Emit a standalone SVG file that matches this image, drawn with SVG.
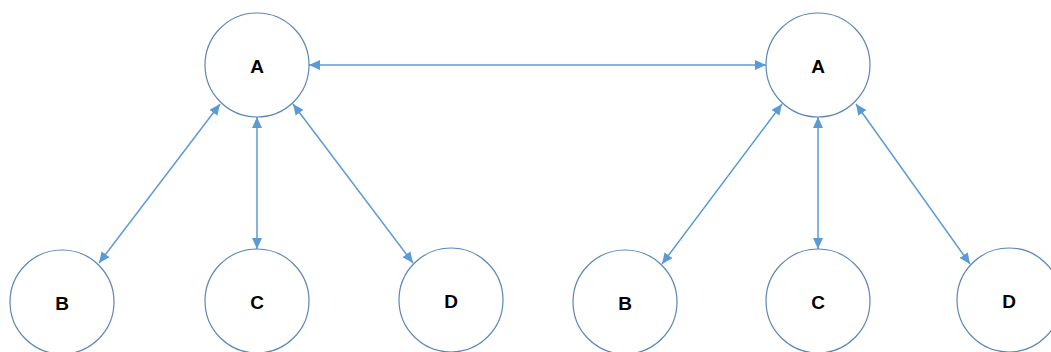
<svg xmlns="http://www.w3.org/2000/svg" width="1051" height="352" viewBox="0 0 1051 352">
<style>
.n{fill:#fff;stroke:#5a87b8;stroke-width:1.2}
.t{font-family:"Liberation Sans",Arial,sans-serif;font-weight:bold;font-size:19px;fill:#000;text-anchor:middle;dominant-baseline:central}
.c{stroke:#5b9bd5;stroke-width:1.5;fill:none;marker-start:url(#ah);marker-end:url(#ah)}
</style>
<defs>
<marker id="ah" markerUnits="userSpaceOnUse" markerWidth="12" markerHeight="10" refX="11" refY="5" orient="auto-start-reverse">
<path d="M0,0 L11,5 L0,10 Z" fill="#5b9bd5"/>
</marker>
</defs>
<rect width="1051" height="352" fill="#fff"/>
<g id="connectors">
<line class="c" x1="309" y1="65" x2="766" y2="65"/>
<line class="c" x1="220" y1="104" x2="99" y2="263"/>
<line class="c" x1="257" y1="117" x2="257" y2="249"/>
<line class="c" x1="293" y1="104" x2="413" y2="263"/>
<line class="c" x1="782" y1="104" x2="662" y2="264"/>
<line class="c" x1="818" y1="117" x2="818" y2="249"/>
<line class="c" x1="856" y1="104" x2="970" y2="264"/>
</g>
<g id="nodeA1"><circle class="n" cx="257" cy="65" r="52"/><text class="t" x="257" y="66">A</text></g>
<g id="nodeB1"><circle class="n" cx="62" cy="302" r="52"/><text class="t" x="62" y="303">B</text></g>
<g id="nodeC1"><circle class="n" cx="257" cy="301" r="52"/><text class="t" x="257" y="302">C</text></g>
<g id="nodeD1"><circle class="n" cx="451" cy="300" r="52"/><text class="t" x="451" y="301">D</text></g>
<g id="nodeA2"><circle class="n" cx="818" cy="65" r="52"/><text class="t" x="818" y="66">A</text></g>
<g id="nodeB2"><circle class="n" cx="625" cy="302" r="52"/><text class="t" x="625" y="303">B</text></g>
<g id="nodeC2"><circle class="n" cx="818" cy="301" r="52"/><text class="t" x="818" y="302">C</text></g>
<g id="nodeD2"><circle class="n" cx="1009" cy="300" r="52"/><text class="t" x="1009" y="301">D</text></g>
</svg>
